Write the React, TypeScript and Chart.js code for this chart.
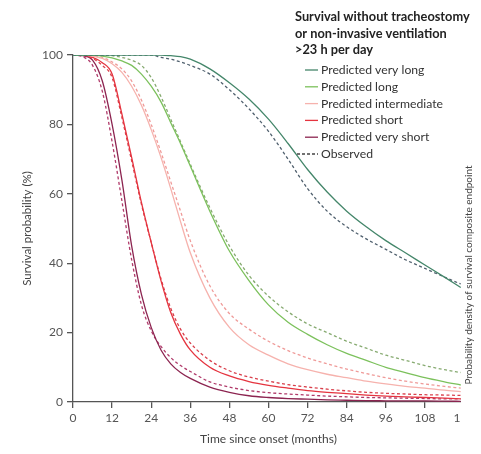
import React, { useEffect, useRef } from "react";
import { Chart, registerables } from "chart.js";

Chart.register(...registerables);

// Time since onset (months)
const months = [0, 3, 6, 9, 12, 15, 18, 21, 24, 27, 30, 33, 36, 42, 48, 54, 60, 66, 72, 78, 84, 90, 96, 102, 108, 114, 119];

// Predicted (solid) and observed (dashed) survival, %
const veryLongPredicted = [100, 100, 100, 100, 100, 100, 100, 100, 100, 100, 99.8, 99.5, 98.8, 96, 92, 87.3, 81.5, 74.5, 67, 60.5, 55, 50.5, 46.5, 43, 39.5, 36, 33];
const veryLongObserved = [100, 100, 100, 100, 100, 100, 100, 100, 100, 99.3, 98.8, 98, 97, 94.5, 90, 84.5, 78, 70, 61.5, 55, 50.5, 47, 44, 41, 38.5, 36, 34];
const longPredicted = [100, 100, 100, 99.7, 99.2, 98.3, 97, 94.5, 91, 86.5, 80.5, 74.5, 68, 55, 43.5, 35, 28, 23, 19.5, 16.5, 14, 12, 10, 8.5, 7, 5.8, 4.9];
const longObserved = [100, 100, 100, 100, 99.8, 99.3, 98.5, 97, 93.5, 88, 81.5, 75, 68.5, 56, 45, 36.5, 30.5, 26, 22.5, 20, 17.5, 15.5, 13.5, 12, 10.5, 9.3, 8.5];
const intermediatePredicted = [100, 100, 99.7, 99, 97.5, 95, 91, 85.5, 78.5, 70.5, 61.5, 52, 43, 30, 21.5, 16.5, 13.5, 11, 9.3, 8, 7, 6, 5.2, 4.5, 4, 3.4, 3];
const intermediateObserved = [100, 100, 99.8, 99.3, 98, 96, 92.5, 87, 80, 72, 63.5, 55, 46.5, 33.5, 25.5, 21, 17.5, 14.8, 12.7, 11, 9.5, 8.2, 7, 6, 5.2, 4.5, 4];
const shortPredicted = [100, 100, 99.3, 97.8, 94.5, 83, 70.5, 57.5, 46, 35, 25.8, 19.5, 15, 10, 7.5, 5.9, 4.8, 4, 3.3, 2.8, 2.4, 2, 1.7, 1.5, 1.3, 1.1, 0.9];
const shortObserved = [100, 100, 99, 97, 93.5, 82, 69.5, 57, 46, 35.5, 27, 21, 17, 12, 9, 7.2, 6, 5, 4.3, 3.7, 3.2, 2.8, 2.5, 2.3, 2.1, 2, 1.9];
const veryShortPredicted = [100, 99.8, 98.5, 92.5, 80, 64, 45, 31, 21.5, 15, 11, 8.5, 6.8, 4.3, 2.8, 1.8, 1.3, 1, 0.8, 0.6, 0.5, 0.4, 0.35, 0.3, 0.3, 0.25, 0.2];
const veryShortObserved = [100, 99.5, 97, 89.5, 75, 58, 41, 28, 20.5, 16, 12.8, 10.5, 8.8, 5.8, 4.3, 3.3, 2.7, 2.3, 2, 1.7, 1.5, 1.3, 1.2, 1.1, 1, 0.9, 0.9];

const groupLabels = ["Predicted very long", "Predicted long", "Predicted intermediate", "Predicted short", "Predicted very short"];
const groupColors = ["#44866a", "#7cc15c", "#f6b2ad", "#e5343f", "#8c2450"];
const observedColors = ["#50606e", "#86aa70", "#ef9a98", "#d9404c", "#b03a6a"];
const observedLabel = "Observed";
const legendTitle = ["Survival without tracheostomy", "or non-invasive ventilation", ">23 h per day"];

const xTickValues = [0, 12, 24, 36, 48, 60, 72, 84, 96, 108, 120];
const yTickValues = [0, 20, 40, 60, 80, 100];
const xTitle = "Time since onset (months)";
const yTitle = "Survival probability (%)";
const sideTitle = "Probability density of survival composite endpoint";

const FONT = "Lato, 'Open Sans', sans-serif";

const legendPlugin = {
  id: "customLegend",
  afterDraw(chart: any) {
    const ctx = chart.ctx;
    ctx.save();
    // neighbouring panel edge
    ctx.fillStyle = "#ffffff";
    ctx.fillRect(461, 170, 20, 284);
    // side title
    ctx.translate(469, 275);
    ctx.rotate(-Math.PI / 2);
    ctx.fillStyle = "#444";
    ctx.font = `10px ${FONT}`;
    ctx.textAlign = "center";
    ctx.textBaseline = "middle";
    ctx.fillText(sideTitle, 0, 0);
    ctx.restore();

    ctx.save();
    ctx.textBaseline = "middle";
    ctx.textAlign = "left";
    ctx.fillStyle = "#222";
    ctx.font = `bold 12.8px ${FONT}`;
    legendTitle.forEach((t, i) => ctx.fillText(t, 295, 17 + i * 16.5));
    ctx.font = `12.2px ${FONT}`;
    const items = [...groupLabels, observedLabel];
    items.forEach((label, i) => {
      const y = 70 + i * 16.8;
      ctx.beginPath();
      ctx.lineWidth = 1.3;
      if (i < groupLabels.length) {
        ctx.strokeStyle = groupColors[i];
        ctx.setLineDash([]);
        ctx.moveTo(305, y);
      } else {
        ctx.strokeStyle = "#444";
        ctx.setLineDash([3, 2]);
        ctx.moveTo(297, y);
      }
      ctx.lineTo(318, y);
      ctx.stroke();
      ctx.setLineDash([]);
      ctx.fillStyle = "#333";
      ctx.fillText(label, 321, y);
    });
    ctx.restore();
  },
};

export default function App() {
  const canvasRef = useRef<HTMLCanvasElement>(null);

  useEffect(() => {
    if (!canvasRef.current) return;
    const predicted = [veryLongPredicted, longPredicted, intermediatePredicted, shortPredicted, veryShortPredicted];
    const observed = [veryLongObserved, longObserved, intermediateObserved, shortObserved, veryShortObserved];
    const datasets: any[] = [];
    predicted.forEach((vals, i) => {
      datasets.push({
        label: groupLabels[i],
        data: months.map((m, j) => ({ x: m, y: vals[j] })),
        borderColor: groupColors[i],
        borderWidth: 1.3,
        pointRadius: 0,
        cubicInterpolationMode: "monotone",
        fill: false,
      });
      datasets.push({
        label: observedLabel + " " + groupLabels[i],
        data: months.map((m, j) => ({ x: m, y: observed[i][j] })),
        borderColor: observedColors[i],
        borderWidth: 1.3,
        borderDash: [3, 2.5],
        pointRadius: 0,
        cubicInterpolationMode: "monotone",
        fill: false,
      });
    });

    const chart = new Chart(canvasRef.current, {
      type: "line",
      data: { datasets },
      plugins: [legendPlugin],
      options: {
        animation: false,
        responsive: false,
        devicePixelRatio: 1,
        layout: { padding: { top: 55, right: 17, left: 0, bottom: 0 } },
        plugins: { legend: { display: false }, tooltip: { enabled: false } },
        scales: {
          x: {
            type: "linear",
            min: 0,
            max: 120,
            afterFit: (s: any) => { s.height = 52; },
            afterBuildTicks: (s: any) => { s.ticks = xTickValues.map((v) => ({ value: v })); },
            ticks: { color: "#555", font: { family: FONT, size: 12 }, padding: 3, maxRotation: 0, autoSkip: false },
            grid: { drawOnChartArea: false, drawTicks: true, tickLength: 6, color: "#555", lineWidth: 1.3 },
            border: { color: "#555", width: 1.3 },
            title: { display: true, text: xTitle, color: "#444", font: { family: FONT, size: 12 }, padding: { top: 0, bottom: 8 } },
          },
          y: {
            type: "linear",
            min: 0,
            max: 100,
            afterFit: (s: any) => { s.width = 73; },
            afterBuildTicks: (s: any) => { s.ticks = yTickValues.map((v) => ({ value: v })); },
            ticks: { color: "#555", font: { family: FONT, size: 12 }, padding: 4 },
            grid: { drawOnChartArea: false, drawTicks: true, tickLength: 6, color: "#555", lineWidth: 1.3 },
            border: { color: "#555", width: 1.3 },
            title: { display: true, text: yTitle, color: "#444", font: { family: FONT, size: 11.5 }, padding: { top: 20, bottom: 0 } },
          },
        },
      },
    });
    return () => chart.destroy();
  }, []);

  return (
    <div style={{ position: "fixed", left: 0, top: 0, width: 481, height: 454, background: "#fff" }}>
      <canvas ref={canvasRef} width={481} height={454} style={{ width: 481, height: 454, display: "block" }} />
    </div>
  );
}
